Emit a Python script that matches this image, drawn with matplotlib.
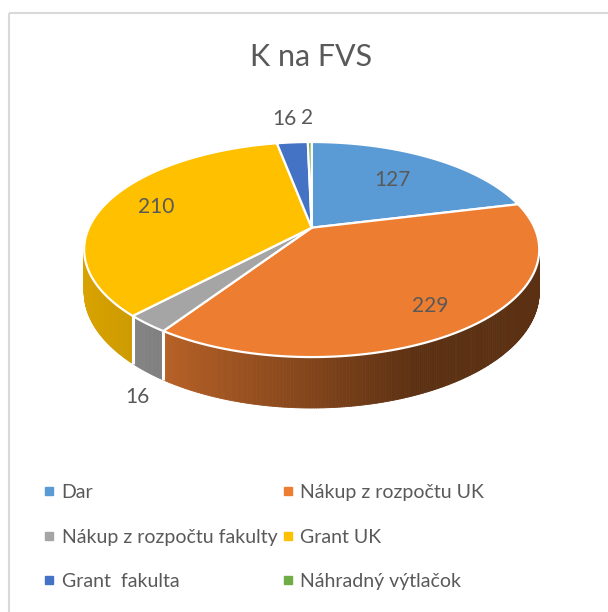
import numpy as np
import matplotlib.pyplot as plt
from matplotlib.patches import Polygon, Rectangle
from matplotlib.collections import PolyCollection
from matplotlib.lines import Line2D
from matplotlib.colors import to_rgb

plt.rcParams['font.family'] = ['Lato', 'DejaVu Sans']

# data
title = 'K na FVS'
labels = ['Dar', 'Nákup z rozpočtu UK', 'Nákup z rozpočtu fakulty',
          'Grant UK', 'Grant  fakulta', 'Náhradný výtlačok']
values = [127, 229, 16, 210, 16, 2]
colors = ['#5B9BD5', '#ED7D31', '#A5A5A5', '#FFC000', '#4472C4', '#70AD47']

# layout of the fake 3d pie (pixel space)
CX, CY = 311.7, 227.7
A, B, E, H = 222.8, 103.1, 0.203, 40.6
TXT = '#595959'

# label placement (radius, nudge in px)
lab_r = [0.65, 0.80, 1.05, 0.76, 1.05, 1.05]
lab_dx = [0, 0, 0, 0, -7, -3]


def proj(theta, r=1.0, z=0.0):
    X = r * np.sin(theta)
    Y = r * np.cos(theta)
    w = 1 + E * Y
    return CX + A * X / w, CY - B * Y / w + H * z / w


def shade(x):
    return np.interp(x, [84, 165, 415, 540], [0.85, 0.77, 0.39, 0.39])


fig = plt.figure(figsize=(6.08, 6.12), dpi=100)
ax = fig.add_axes([0, 0, 1, 1])
ax.set_xlim(0, 608)
ax.set_ylim(612, 0)
ax.axis('off')

ax.add_patch(Rectangle((9, 13), 700, 700, fill=False, ec='#D9D9D9', lw=1.5))

vals = np.array(values, dtype=float)
edges = np.concatenate([[0], np.cumsum(vals)]) / vals.sum() * 2 * np.pi

# side walls, drawn in thin strips back to front
strips = []
for i in range(len(vals)):
    ts = np.linspace(edges[i], edges[i + 1], max(3, int((edges[i + 1] - edges[i]) * 120)))
    base = np.array(to_rgb(colors[i]))
    for t0, t1 in zip(ts[:-1], ts[1:]):
        x0, y0 = proj(t0)
        x1, y1 = proj(t1)
        bx0, by0 = proj(t0, z=1)
        bx1, by1 = proj(t1, z=1)
        c = base * shade((x0 + x1) / 2)
        strips.append((np.cos((t0 + t1) / 2), [(x0, y0), (x1, y1), (bx1, by1), (bx0, by0)], c))
strips.sort(key=lambda s: -s[0])
pc = PolyCollection([s[1] for s in strips], facecolors=[s[2] for s in strips],
                    edgecolors=[s[2] for s in strips], linewidths=0.6, zorder=1)
ax.add_collection(pc)

# white seams on the visible wall
for t in edges:
    if np.cos(t) < -E:
        x0, y0 = proj(t)
        x1, y1 = proj(t, z=1)
        ax.plot([x0, x1], [y0, y1], color='white', lw=2.2, solid_capstyle='butt', zorder=2)

# top faces
for i in range(len(vals)):
    ts = np.linspace(edges[i], edges[i + 1], max(3, int((edges[i + 1] - edges[i]) * 120)))
    xs, ys = proj(ts)
    pts = [(CX, CY)] + list(zip(xs, ys))
    ax.add_patch(Polygon(pts, closed=True, fc=colors[i], ec='white', lw=1.6,
                         joinstyle='round', zorder=3))

# data labels
for i, v in enumerate(values):
    mid = (edges[i] + edges[i + 1]) / 2
    r = lab_r[i]
    if r < 1:
        x, y = proj(mid, r)
        ax.text(x + lab_dx[i], y, str(v), ha='center', va='center', fontsize=15, color=TXT, zorder=4)
    elif np.cos(mid) > 0:
        x, y = proj(mid, r)
        ax.text(x + lab_dx[i], y - 10, str(v), ha='center', va='bottom', fontsize=15, color=TXT, zorder=4)
    else:
        x, y = proj(mid, r, z=1)
        ax.text(x + lab_dx[i], y + 9, str(v), ha='center', va='top', fontsize=15, color=TXT, zorder=4)

ax.text(311.5, 57, title, ha='center', va='center', fontsize=22, color=TXT)

# legend, row-wise order like excel
order = [0, 2, 4, 1, 3, 5]
handles = [Line2D([], [], ls='none', marker='s', ms=5.5, mfc=colors[i], mec=colors[i]) for i in order]
fig.legend(handles, [labels[i] for i in order], ncol=2, loc='upper left',
           bbox_to_anchor=(45 / 608, 1 - 484 / 612), frameon=False, fontsize=14,
           labelcolor=TXT, handlelength=0.4, handletextpad=0.45, labelspacing=1.42,
           columnspacing=0.35, borderaxespad=0, borderpad=0)

fig.savefig('out.png', dpi=100)
